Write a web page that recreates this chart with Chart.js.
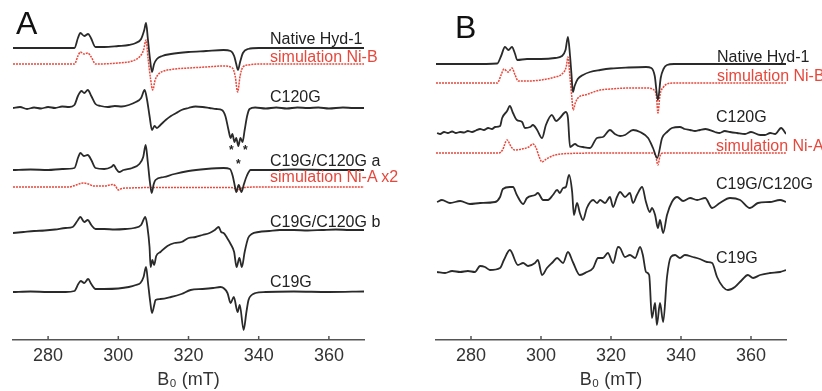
<!DOCTYPE html>
<html>
<head>
<meta charset="utf-8">
<script src="https://cdn.jsdelivr.net/npm/chart.js@4/dist/chart.umd.min.js"></script>
<style>
  html, body { margin: 0; padding: 0; background: #fff; }
  #wrap { position: relative; width: 822px; height: 391px; overflow: hidden; font-family: "Liberation Sans", Arial, sans-serif; }
  canvas { position: absolute; top: 0; }
  .lbl { position: absolute; font-size: 16px; line-height: 16px; white-space: nowrap; color: #222; }
  .red { color: #e8473b; }
  .panel { position: absolute; font-size: 32px; line-height: 32px; color: #111; }
  .star { position: absolute; font-size: 12px; line-height: 12px; font-weight: bold; color: #222; }
</style>
</head>
<body>
<div id="wrap">
  <canvas id="cA" width="411" height="391" style="left:0"></canvas>
  <canvas id="cB" width="411" height="391" style="left:411px"></canvas>
</div>
<script>
// ---------- DATA ----------
const fieldRange = [270, 370];           // B0 (mT)
const tickValues = [280, 300, 320, 340, 360];
const axisTitle = 'B\u2080 (mT)';

// Panel A: spectra as [B0 (mT), intensity]
const aNative = [[270,0],[280,0],[287.5,0],[288.5,10],[289.2,15],[290.3,12],[291.4,14],[292.2,10],[293.5,1],[296,1],[300,2],[303,3],[305,5],[306.5,9],[307.4,18],[307.9,25],[308.4,10],[309,-10],[309.6,-24],[310.2,-16],[311,-11],[312.5,-8],[315,-6],[320,-4],[325,-3],[330,-2],[332,-3],[333,-8],[333.6,-16],[334.1,-22],[334.7,-14],[335.5,-5],[337,-1],[340,0],[350,0],[360,0],[370,0]];
const aSimNiB = [[270,0],[287.5,0],[288.5,8],[289.2,12],[290.2,10],[291.3,11],[292.3,7],[293.5,0],[300,1],[304,3],[306,7],[307.2,14],[307.9,24],[308.5,5],[309.2,-15],[309.8,-26],[310.5,-16],[311.5,-10],[313,-7],[316,-5],[320,-4],[325,-3],[330,-2],[332.5,-4],[333.3,-12],[334,-28],[334.7,-12],[335.5,-3],[337,-1],[340,0],[370,0]];
const aC120G = [[270,0],[272,1],[274,-1],[276,0.5],[278,-0.5],[280,1],[282,0],[284,1.5],[286,1],[287.5,3],[288.5,12],[289.5,17],[290.3,15],[291.3,18],[292.3,12],[293.5,4],[295,2],[297,1],[299,2],[301,1.5],[303,3],[305,6],[306.5,10],[307.5,18],[308.2,8],[308.9,-8],[309.6,-22],[310.3,-18],[311,-20],[312,-17],[313.5,-12],[315,-8],[316.5,-5],[318,-2],[320,0],[322,1.5],[324,1],[326,0],[328,-1],[329.5,-2],[330.5,-8],[331.4,-22],[332,-30],[332.5,-26],[333.1,-34],[333.6,-30],[334.2,-38],[334.8,-30],[335.4,-34],[336,-22],[336.7,-8],[337.4,-1],[339,0.5],[342,-0.5],[345,0.5],[348,-0.5],[351,0.5],[354,0],[357,0.5],[360,-0.5],[364,0.5],[367,0],[370,0]];
const aC19GC120Ga = [[270,0],[275,0.5],[280,0],[284,1],[287.5,2],[288.6,13],[289.2,17],[290.2,14],[291.3,15],[292.3,10],[293.5,2],[296,1],[298,3],[298.7,5],[299.4,1],[300.2,-2],[301.5,0],[304,2],[306,6],[307.1,13],[307.8,25],[308.4,8],[309,-12],[309.5,-23],[310.1,-14],[310.6,-10],[313,-7],[316,-4],[320,-1],[325,1],[330,2],[331.8,1],[332.6,-6],[333.2,-16],[333.6,-22],[334.3,-15],[335.1,-22],[335.8,-14],[336.6,-6],[337.7,0],[345,0],[350,0.5],[360,0],[370,0]];
const aSimNiAx2 = [[270,0],[286,0],[288,2],[290,4],[291.5,3],[293,1],[296,1],[298.4,2.5],[299.2,1],[300,-3],[301,-1.5],[303,-1],[310,-0.5],[320,-0.5],[332,-0.5],[333.4,-2],[334,-4],[334.6,-2],[336,-0.5],[340,0],[370,0]];
const aC19GC120Gb = [[270,-1],[273,0],[276,1],[279,1.5],[282,2.5],[285,4],[287,5],[288.5,12],[289.2,15],[290.3,10],[291.3,12],[292.3,7],[293.5,3],[296,3],[299,2.5],[302,3],[304.5,4],[306.5,7],[307.7,15],[308.3,5],[308.9,-15],[309.2,-35],[309.7,-28],[310.2,-33],[310.8,-24],[312,-20],[314,-14],[316,-11],[318,-10],[320,-6],[322,-5],[324,-3],[326,-1],[327.5,2],[328.6,5],[329.3,0],[330,-1],[331,-6],[332,-12],[333,-20],[333.7,-35],[334.5,-26],[335.2,-35],[336,-20],[337,-6],[338,-2],[340,0],[343,1],[346,2],[350,2],[354,1.5],[358,2],[362,2.5],[366,2],[370,2]];
const aC19G = [[270,0],[275,0.5],[280,0],[285,0],[287.5,1],[288.6,8],[289.3,11],[290.3,9],[291.4,13],[292.3,8],[293.5,3],[296,3],[300,3.5],[303,5],[305,7],[306.3,9],[307.2,15],[307.9,25],[308.5,8],[309.1,-10],[309.6,-21],[310.3,-12],[310.6,-8],[312,-7],[315,-5],[318,-2],[320.6,2],[324,3],[327,4],[329.1,5],[331.1,-1],[332,-11],[332.9,-5],[334,-20],[334.6,-13],[335.7,-38],[336.5,-20],[337.1,-8],[338,-3],[339.1,-1],[342,0],[350,0.5],[360,0],[370,0.5]];

// Panel B
const bNative = [[270,0],[280,0],[287.5,0.5],[288.6,8],[289.7,17],[290.7,14],[291.7,17],[292.6,10],[293.2,4],[296,5],[300,5],[304,6],[306,8],[307,14],[307.7,27],[308.3,8],[308.7,-10],[309.1,-28],[309.6,-22],[310.5,-15],[312,-11],[314,-8],[316.9,-6],[320,-4.5],[325,-3.5],[330,-3],[331.5,-4],[332.5,-12],[333.4,-36],[334.2,-14],[335,-5],[336,-1],[338,0],[345,0],[355,0],[370,0]];
const bSimNiB = [[270,0],[287.5,0],[288.6,8],[289.4,14],[290.6,11],[291.7,15],[292.6,8],[293.5,2],[296,2],[300,3],[304,6],[306,9],[307.2,16],[307.7,26],[308.3,5],[308.8,-14],[309.2,-27],[309.8,-20],[310.8,-14],[312.6,-12],[316.9,-7],[320,-6],[325,-5],[330,-5],[332.3,-7],[333,-14],[333.4,-30],[334,-12],[335,-4],[336,-1],[338,0],[370,0]];
const bC120G = [[270.3,0],[271.2,-1],[272.3,1],[273.4,0],[274.6,1.5],[275.7,0],[276.9,1],[278,0.5],[279.1,2],[280.3,1],[281.4,2.5],[282.6,4],[283.7,3],[284.9,5],[286,4],[286.9,6],[288.3,7],[288.9,15],[290.3,22],[291.1,27],[292,20],[293.1,13],[294.6,11],[295.4,5],[296.9,6],[297.7,8],[298.9,3],[300.3,-5],[301.4,8],[303.1,18],[304.3,12],[305.4,15],[307.1,21],[307.7,15],[308.3,-14],[309.7,-11],[310.6,-13],[312,-14],[314,-15],[316,-5],[317.7,-4],[319.7,3],[321.1,-1],[322.6,-3],[324,-2],[326.3,3],[328.3,1],[330.6,-5],[332,-15],[333.2,-25],[334.6,-5],[336,1],[337.4,5],[339.7,6],[341,4],[342.6,3],[344,2],[345.4,3],[347,4],[349.7,1],[351,0],[352.5,2],[354,1],[356,0],[358.3,-1],[360,1],[362.6,-2],[364,-2],[365.5,0],[366.9,-1],[368.6,5],[370,-1]];
const bSimNiA = [[270,0],[288,0],[289,3],[290.3,13],[291.5,6],[292.5,3],[294.6,4],[296.5,6],[297.7,9],[298.6,5],[299.5,-4],[300.3,-9],[301.5,-6],[304,-2],[308,-0.5],[320,0],[332,0],[332.8,-3],[333.4,-12],[334,-3],[335,0],[370,0]];
const bC19GC120G = [[270.3,0],[271.7,2],[274,-1],[276.9,1],[279.7,-2],[282.6,-1],[286.9,0],[288.3,5],[289.1,13],[291.1,15],[292,15],[293.1,7],[294.9,-2],[296,4],[298.3,7],[299.1,9],[300.6,2],[302,2],[303.4,7],[304.6,12],[305.4,9],[306.3,14],[307.1,15],[308,27],[308.9,10],[309.4,-13],[310.3,-1],[311.1,-11],[312,-18],[313.1,-6],[314.9,2],[316,-1],[316.9,2],[318.3,-1],[319.7,5],[320.6,-5],[321.7,5],[322.6,10],[324,5],[325.4,9],[326.3,-1],[327.4,7],[328.9,15],[330,0],[331.1,-10],[331.7,-6],[332.6,-13],[333.4,-26],[334,-18],[334.9,-31],[336,-13],[337.4,0],[338.9,5],[340.6,1],[342.6,4],[344.6,2],[346.9,4],[348.9,-6],[351.1,-1],[354,4],[356.9,2],[359.7,-6],[362,-1],[365.4,0],[368.3,2],[370,0]];
const bC19G = [[270.3,0],[272.6,-1],[274.6,1],[276.9,0],[279.1,1],[281.1,0],[282.6,6],[284,5],[285.4,2],[288.3,4],[289.4,12],[291.1,22],[293.4,7],[294.9,9],[296.3,6],[298.3,9],[299.1,12],[300.3,-3],[301.7,4],[303.4,10],[304.6,14],[306.3,9],[307.7,20],[309.1,10],[311.1,-3],[313.1,0],[314.9,4],[316.3,14],[317.7,14],[319.1,19],[320.6,9],[322,25],[322.6,24],[324,15],[325.4,17],[326.9,14],[328.3,25],[329.1,17],[330,0],[330.9,-3],[331.7,-46],[332.6,-31],[333.1,-53],[334,-31],[334.9,-50],[336,-5],[337.1,15],[338.3,17],[339.7,14],[341.1,17],[343.4,15],[345.4,13],[347.4,10],[348.9,9],[350.3,-5],[352,-15],[353.4,-18],[355.4,-15],[357.4,-8],[359.1,-3],[360.6,-6],[362.6,-3],[365.4,-1],[368.3,0],[370,2]];

// stacking offsets (chart y units, measured downward)
const offsetsA = [48, 64, 108, 170, 187, 232, 292];
const offsetsB = [64, 83, 133, 153, 202, 272];
const namesA = ['Native Hyd-1', 'simulation Ni-B', 'C120G', 'C19G/C120G a', 'simulation Ni-A x2', 'C19G/C120G b', 'C19G'];
const namesB = ['Native Hyd-1', 'simulation Ni-B', 'C120G', 'simulation Ni-A', 'C19G/C120G', 'C19G'];
const simFlagsA = [false, true, false, false, true, false, false];
const simFlagsB = [false, true, false, true, false, false];

// ---------- STYLE / LAYOUT ----------
const BLACK = '#2a2a2a', RED = '#e8473b', AXIS = '#555';
const FONT = '"Liberation Sans", Arial, sans-serif';

const tickMarks = {
  id: 'tickMarks',
  afterDraw(chart) {
    const s = chart.scales.x, ctx = chart.ctx;
    ctx.save();
    ctx.strokeStyle = AXIS; ctx.lineWidth = 1.5;
    s.ticks.forEach(t => {
      const px = s.getPixelForValue(t.value);
      ctx.beginPath(); ctx.moveTo(px, s.top); ctx.lineTo(px, s.top - 4); ctx.stroke();
    });
    ctx.restore();
  }
};

function makePanel(id, traces, offsets, sims, padL, padR) {
  const datasets = traces.map((tr, i) => ({
    label: 'trace' + i,
    data: tr.map(([b, v]) => ({ x: b, y: offsets[i] - v })),
    borderColor: sims[i] ? RED : BLACK,
    borderWidth: sims[i] ? 1.5 : 1.8,
    borderDash: sims[i] ? [2, 1] : [],
    pointRadius: 0,
    cubicInterpolationMode: 'monotone',
    fill: false
  }));
  return new Chart(document.getElementById(id), {
    type: 'line',
    data: { datasets },
    plugins: [tickMarks],
    options: {
      responsive: false, animation: false, devicePixelRatio: 1,
      layout: { padding: { left: padL, right: padR, top: 0, bottom: 0 } },
      plugins: { legend: { display: false }, tooltip: { enabled: false } },
      elements: { line: { clip: false } },
      scales: {
        x: {
          type: 'linear', min: fieldRange[0], max: fieldRange[1],
          afterBuildTicks: s => { s.ticks = tickValues.map(v => ({ value: v })); },
          afterFit: s => { s.height = 51; },
          grid: { display: false, drawTicks: false },
          border: { display: true, color: AXIS, width: 1.5 },
          ticks: { color: '#333', padding: 5, font: { family: FONT, size: 18 } },
          title: { display: true, text: axisTitle, color: '#333', padding: { top: 0, bottom: 0 }, font: { family: FONT, size: 18 } }
        },
        y: { display: false, min: 0, max: 340, reverse: true }
      }
    }
  });
}

makePanel('cA', [aNative, aSimNiB, aC120G, aC19GC120Ga, aSimNiAx2, aC19GC120Gb, aC19G], offsetsA, simFlagsA, 13, 47);
makePanel('cB', [bNative, bSimNiB, bC120G, bSimNiA, bC19GC120G, bC19G], offsetsB, simFlagsB, 25, 36);

// text labels (real DOM text)
const wrap = document.getElementById('wrap');
function addText(txt, cls, left, top) {
  const d = document.createElement('div');
  d.className = cls; d.textContent = txt;
  d.style.left = left + 'px'; d.style.top = top + 'px';
  wrap.appendChild(d);
}
const labelPosA = [[270,39],[270,57],[270,97],[270,161],[270,177],[270,222],[270,282]];
const labelPosB = [[717,57],[717,76],[716,117],[716,146],[716,184],[716,258]];
namesA.forEach((n, i) => addText(n, 'lbl' + (simFlagsA[i] ? ' red' : ''), labelPosA[i][0], labelPosA[i][1] - 8));
namesB.forEach((n, i) => addText(n, 'lbl' + (simFlagsB[i] ? ' red' : ''), labelPosB[i][0], labelPosB[i][1] - 8));
addText('A', 'panel', 16, 7);
addText('B', 'panel', 455, 11);
[[229,144],[243,144],[236,158]].forEach(p => addText('*', 'star', p[0], p[1]));
</script>
</body>
</html>
